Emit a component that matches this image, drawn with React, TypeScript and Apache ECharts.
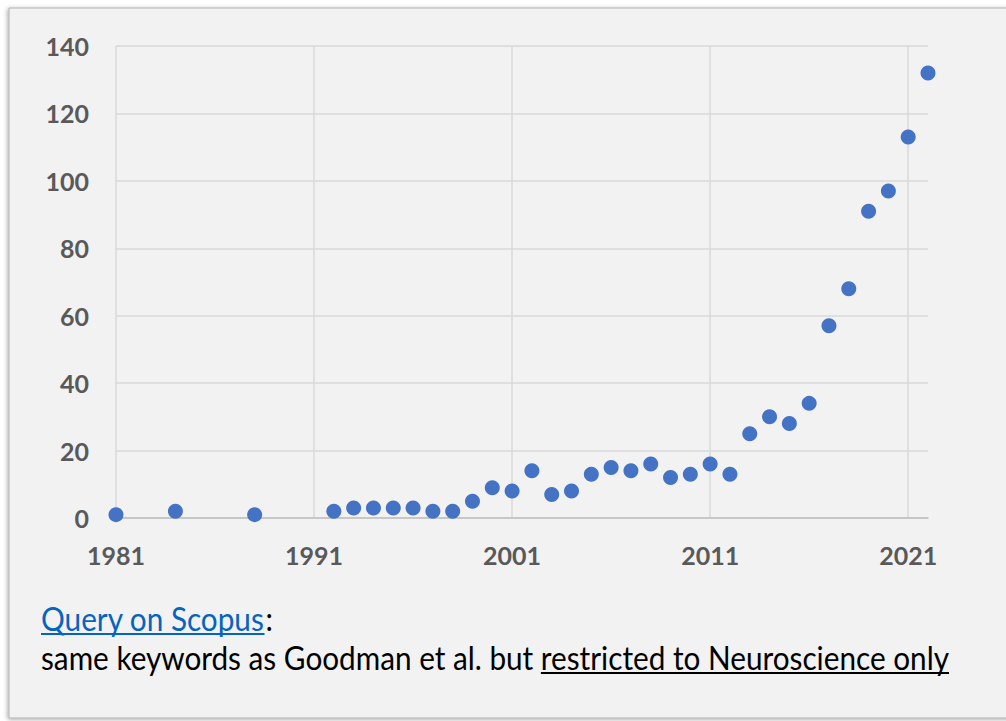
import React, { useEffect, useRef } from "react";
import * as echarts from "echarts";

const years = [1981, 1984, 1988, 1992, 1993, 1994, 1995, 1996, 1997, 1998, 1999, 2000, 2001, 2002, 2003, 2004, 2005, 2006, 2007, 2008, 2009, 2010, 2011, 2012, 2013, 2014, 2015, 2016, 2017, 2018, 2019, 2020, 2021, 2022];
const counts = [1, 2, 1, 2, 3, 3, 3, 3, 2, 2, 5, 9, 8, 14, 7, 8, 13, 15, 14, 16, 12, 13, 16, 13, 25, 30, 28, 34, 57, 68, 91, 97, 113, 132];

const noteLink = "Query on Scopus";
const noteColon = ":";
const notePlain = "same keywords as Goodman et al. but ";
const noteUnderlined = "restricted to Neuroscience only";

const FONT = "Lato";

function measure(text: string, font: string): number {
  const c = document.createElement("canvas");
  const ctx = c.getContext("2d")!;
  ctx.font = font;
  return ctx.measureText(text).width;
}

export default function App() {
  const ref = useRef<HTMLDivElement>(null);
  useEffect(() => {
    if (!ref.current) return;
    const chart = echarts.init(ref.current, null, { renderer: "svg" });

    const fs = 32;
    const f = `${fs}px ${FONT}`;
    const full = measure(notePlain + noteUnderlined, f);
    const sx = 908 / full;
    const wLink = measure(noteLink, f) * sx;
    const wPlain = measure(notePlain, f) * sx;
    const wUnder = measure(noteUnderlined, f) * sx;
    const x0 = 41;
    const base1 = 631;
    const base2 = 670;
    const off = fs * 0.38;

    const data = years.map((y, i) => [y, counts[i]]);

    chart.setOption({
      animation: false,
      backgroundColor: "#ffffff",
      grid: { left: 116, right: 78, top: 46, bottom: 203, containLabel: false },
      xAxis: {
        type: "value",
        min: 1981,
        max: 2022,
        interval: 10,
        axisLine: { show: true, lineStyle: { color: "#bfbfbf", width: 1.5 } },
        axisTick: { show: false },
        axisLabel: {
          showMaxLabel: false,
          margin: 24,
          color: "#595959",
          fontFamily: FONT,
          fontWeight: "bold",
          fontSize: 25,
          formatter: (v: number) => (v === 2022 ? "" : String(v)),
        },
        splitLine: { show: true, showMaxLine: false, lineStyle: { color: "#d9d9d9", width: 1.5 } },
      },
      yAxis: {
        type: "value",
        min: 0,
        max: 140,
        interval: 20,
        axisLine: { show: false },
        axisTick: { show: false },
        axisLabel: {
          margin: 27,
          color: "#595959",
          fontFamily: FONT,
          fontWeight: "bold",
          fontSize: 25,
        },
        splitLine: { show: true, lineStyle: { color: "#d9d9d9", width: 1.5 } },
      },
      graphic: [
        {
          type: "rect",
          z: -10,
          silent: true,
          shape: { x: 9, y: 8, width: 1010, height: 710 },
          style: {
            fill: "#f2f2f2",
            stroke: "#b0b0b0",
            lineWidth: 1,
            shadowBlur: 4,
            shadowColor: "rgba(0,0,0,0.35)",
            shadowOffsetX: -1,
            shadowOffsetY: 1,
          },
        },
        {
          type: "text",
          x: x0,
          y: base1 - off,
          scaleX: sx,
          style: { text: noteLink, font: f, fill: "#0563c1", verticalAlign: "middle" },
        },
        {
          type: "line",
          shape: { x1: x0, y1: base1 + 3, x2: x0 + wLink, y2: base1 + 3 },
          style: { stroke: "#0563c1", lineWidth: 2 },
        },
        {
          type: "text",
          x: x0 + wLink + 1,
          y: base1 - off,
          scaleX: sx,
          style: { text: noteColon, font: f, fill: "#000000", verticalAlign: "middle" },
        },
        {
          type: "text",
          x: x0,
          y: base2 - off,
          scaleX: sx,
          style: { text: notePlain + noteUnderlined, font: f, fill: "#000000", verticalAlign: "middle" },
        },
        {
          type: "line",
          shape: { x1: x0 + wPlain, y1: base2 + 3, x2: x0 + wPlain + wUnder, y2: base2 + 3 },
          style: { stroke: "#000000", lineWidth: 2 },
        },
      ],
      series: [
        {
          type: "scatter",
          data,
          symbol: "circle",
          symbolSize: 15,
          itemStyle: { color: "#4472c4", opacity: 1 },
        },
      ],
    });
    return () => chart.dispose();
  }, []);
  return (
    <div
      ref={ref}
      style={{ position: "fixed", left: 0, top: 0, width: 1006, height: 721 }}
    />
  );
}
